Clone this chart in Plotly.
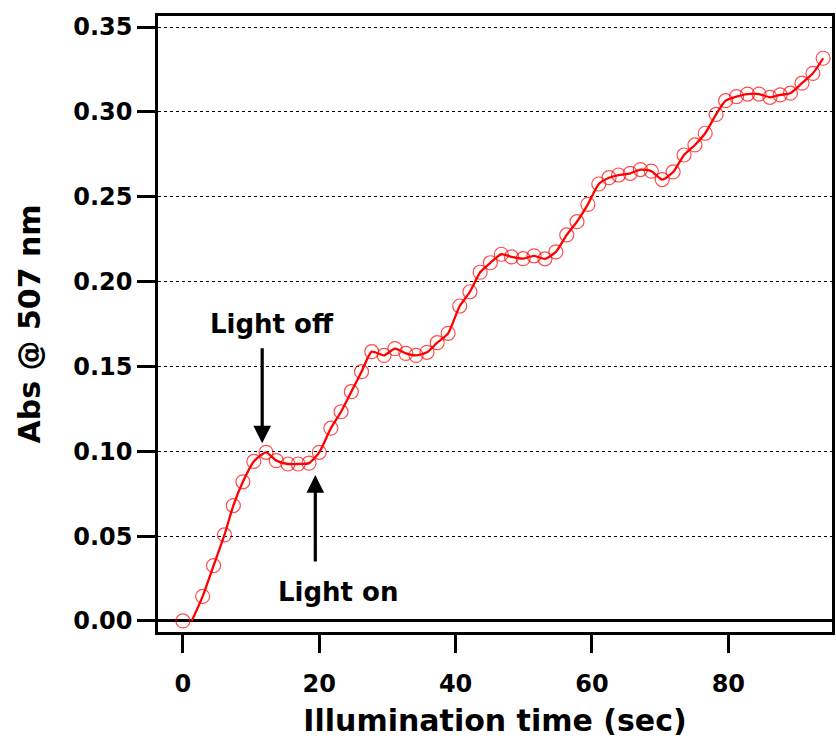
import plotly.graph_objects as go

# Absorbance at 507 nm during intermittent illumination
time_s = [0.0, 2.9, 4.5, 6.1, 7.4, 8.8, 10.4, 12.2, 13.7, 15.4,
          16.9, 18.5, 20.0, 21.7, 23.2, 24.7, 26.2, 27.7, 29.5, 31.1,
          32.7, 34.2, 35.8, 37.3, 38.9, 40.6, 42.1, 43.6, 45.1, 46.7,
          48.2, 49.9, 51.5, 53.1, 54.7, 56.3, 57.8, 59.4, 61.0, 62.5,
          63.9, 65.6, 67.1, 68.7, 70.3, 71.9, 73.5, 75.1, 76.6, 78.2,
          79.6, 81.2, 82.8, 84.5, 86.1, 87.6, 89.1, 90.8, 92.4, 93.9]
absorbance = [0.000, 0.0145, 0.0326, 0.0507, 0.068, 0.082, 0.094, 0.0994, 0.0945, 0.0925,
              0.0925, 0.093, 0.0994, 0.1136, 0.1233, 0.1351, 0.1469, 0.1587, 0.1565, 0.1605,
              0.1577, 0.1565, 0.1583, 0.164, 0.1695, 0.1856, 0.194, 0.2055, 0.2111, 0.2161,
              0.2145, 0.2135, 0.2152, 0.2134, 0.2175, 0.2275, 0.2353, 0.2455, 0.2575, 0.2612,
              0.2628, 0.2638, 0.266, 0.2651, 0.2601, 0.2646, 0.2746, 0.2805, 0.2874, 0.2985,
              0.3066, 0.309, 0.3105, 0.3105, 0.3086, 0.31, 0.311, 0.3169, 0.3227, 0.3316]

# fitted trace begins where illumination starts
fit_start_x = [1.3]
fit_start_y = [0.0]

x_ticks = [0, 20, 40, 60, 80]
y_ticks = [0.00, 0.05, 0.10, 0.15, 0.20, 0.25, 0.30, 0.35]

FONT = "DejaVu Sans"

fig = go.Figure()

fig.add_trace(go.Scatter(
    x=fit_start_x + time_s[1:], y=fit_start_y + absorbance[1:],
    mode="lines",
    line=dict(color="#ff0000", width=2.3, shape="spline", smoothing=0.6),
    hoverinfo="skip", showlegend=False,
))

fig.add_trace(go.Scatter(
    x=time_s, y=absorbance,
    mode="markers",
    marker=dict(symbol="circle-open", size=14,
                color="rgba(255,0,0,0.7)", line=dict(width=1.2)),
    showlegend=False,
))

axis_common = dict(
    showline=True, linecolor="black", linewidth=2.5, mirror=True,
    ticks="outside", ticklen=18, tickwidth=2.5, tickcolor="black",
    tickfont=dict(family=FONT, size=24, color="black", weight="bold"),
)

fig.update_xaxes(
    range=[-3.65, 95.2], tickvals=x_ticks,
    showgrid=False, zeroline=False, ticklabelstandoff=10,
    title=dict(text="Illumination time (sec)", standoff=14,
               font=dict(family=FONT, size=30, color="black", weight="bold")),
    **axis_common,
)

fig.update_yaxes(
    range=[-0.0065, 0.3565], tickvals=y_ticks, tickformat=".2f",
    showgrid=True, gridcolor="black", gridwidth=1.2, griddash="dot",
    zeroline=True, zerolinecolor="black", zerolinewidth=2.5,
    title=dict(text="Abs @ 507 nm", standoff=24,
               font=dict(family=FONT, size=30, color="black", weight="bold")),
    **axis_common,
)

ann_font = dict(family=FONT, size=26, color="black", weight="bold")

fig.add_annotation(x=13.1, y=0.175, xref="x", yref="y", text="Light off",
                   showarrow=False, font=ann_font)
fig.add_annotation(x=22.8, y=0.0171, xref="x", yref="y", text="Light on",
                   showarrow=False, font=ann_font)

# arrows marking when the lamp is switched off and back on
fig.add_annotation(x=11.63, y=0.1047, ax=11.63, ay=0.1616,
                   xref="x", yref="y", axref="x", ayref="y",
                   text="", showarrow=True, arrowhead=2, arrowsize=1.1,
                   arrowwidth=3.2, arrowcolor="black")
fig.add_annotation(x=19.42, y=0.086, ax=19.42, ay=0.0342,
                   xref="x", yref="y", axref="x", ayref="y",
                   text="", showarrow=True, arrowhead=2, arrowsize=1.1,
                   arrowwidth=3.2, arrowcolor="black")

fig.update_layout(
    width=836, height=741,
    margin=dict(l=158, r=1, t=16, b=109),
    plot_bgcolor="white", paper_bgcolor="white",
)

fig.write_html("out.html")
